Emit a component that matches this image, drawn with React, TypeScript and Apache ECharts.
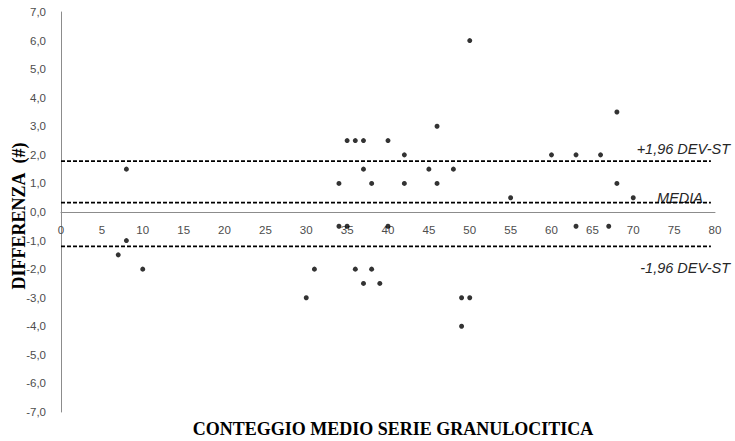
import React, { useEffect, useRef } from "react";
import * as echarts from "echarts";

// Bland-Altman style plot: difference vs mean count
const meanCount = [
  7, 8, 8, 10,
  30, 31, 34, 34, 35, 35, 36, 36, 37, 37, 37, 38, 38, 39, 40, 40,
  42, 42, 45, 46, 46, 48, 49, 49, 50, 50, 55,
  60, 63, 63, 66, 67, 68, 68, 70,
];
const difference = [
  -1.5, 1.5, -1.0, -2.0,
  -3.0, -2.0, 1.0, -0.5, 2.5, -0.5, 2.5, -2.0, 2.5, 1.5, -2.5, 1.0, -2.0, -2.5, 2.5, -0.5,
  2.0, 1.0, 1.5, 3.0, 1.0, 1.5, -3.0, -4.0, 6.0, -3.0, 0.5,
  2.0, 2.0, -0.5, 2.0, -0.5, 3.5, 1.0, 0.5,
];

// Reference lines: mean difference and limits of agreement
const upperLimit = 1.78;
const meanDiff = 0.33;
const lowerLimit = -1.2;
const limitSpan = [0, 79.5];

const upperText = "+1,96 DEV-ST";
const meanText = "MEDIA";
const lowerText = "-1,96 DEV-ST";

const xTitle = "CONTEGGIO MEDIO SERIE GRANULOCITICA";
const yTitle = "DIFFERENZA\u00a0\u00a0(#)";

const yMin = -7;
const yMax = 7;

const tickFont = "'Liberation Sans', Arial, sans-serif";
const titleFont = "'Liberation Serif', 'Times New Roman', serif";

const gridTop = 12;
const gridBottom = 29;
const chartHeight = 441;

function limitSeries(value: number) {
  return {
    type: "line",
    data: limitSpan.map((x) => [x, value]),
    showSymbol: false,
    silent: true,
    lineStyle: { color: "#000", width: 1.7, type: [4, 2] },
    z: 1,
  };
}

export default function App() {
  const ref = useRef<HTMLDivElement>(null);

  useEffect(() => {
    document.body.style.margin = "0";
    if (!ref.current) return;
    const chart = echarts.init(ref.current, undefined, { renderer: "svg" });

    // lift the x axis (line and labels) up to the y = 0 level
    const plotHeight = chartHeight - gridTop - gridBottom;
    const zeroOffset = -(plotHeight * (0 - yMin)) / (yMax - yMin);

    chart.setOption({
      animation: false,
      backgroundColor: "#fff",
      grid: { left: 61, right: 20, top: gridTop, bottom: gridBottom, containLabel: false },
      xAxis: {
        type: "value",
        min: 0,
        max: 80,
        interval: 5,
        offset: zeroOffset,
        axisLine: { onZero: false, lineStyle: { color: "#8c8c8c", width: 1 } },
        axisTick: { show: false },
        splitLine: { show: false },
        axisLabel: { color: "#4d4d4d", fontFamily: tickFont, fontSize: 11.5, margin: 12 },
      },
      yAxis: {
        type: "value",
        min: yMin,
        max: yMax,
        interval: 1,
        axisLine: { show: true, lineStyle: { color: "#8c8c8c", width: 1 } },
        axisTick: { show: false },
        splitLine: { show: false },
        axisLabel: {
          color: "#4d4d4d",
          fontFamily: tickFont,
          fontSize: 11.5,
          margin: 15,
          formatter: (v: number) => v.toFixed(1).replace(".", ","),
        },
      },
      series: [
        limitSeries(upperLimit),
        limitSeries(meanDiff),
        limitSeries(lowerLimit),
        {
          type: "scatter",
          data: meanCount.map((x, i) => [x, difference[i]]),
          symbol: "circle",
          symbolSize: 5,
          itemStyle: { color: "#000" },
          z: 3,
        },
      ],
    });

    const px = (v: number) => chart.convertToPixel({ gridIndex: 0 }, [80, v]) as number[];
    const up = px(upperLimit);
    const md = px(meanDiff);
    const lo = px(lowerLimit);
    const labelStyle = {
      fontFamily: tickFont,
      fontStyle: "italic",
      fontSize: 14.5,
      fill: "#262626",
      align: "right",
      verticalAlign: "middle",
    };

    chart.setOption({
      graphic: [
        { type: "text", x: up[0] + 15, y: up[1] - 12, style: { ...labelStyle, text: upperText } },
        { type: "text", x: md[0] - 12, y: md[1] - 5, style: { ...labelStyle, text: meanText } },
        { type: "text", x: lo[0] + 15, y: lo[1] + 22, style: { ...labelStyle, text: lowerText } },
        {
          type: "text",
          x: 393,
          y: 429,
          style: {
            text: xTitle,
            fontFamily: titleFont,
            fontWeight: "bold",
            fontSize: 18,
            fill: "#000",
            align: "center",
            verticalAlign: "middle",
          },
        },
        {
          type: "text",
          x: 19,
          y: 216,
          rotation: Math.PI / 2,
          style: {
            text: yTitle,
            fontFamily: titleFont,
            fontWeight: "bold",
            fontSize: 18,
            fill: "#000",
            align: "center",
            verticalAlign: "middle",
          },
        },
      ],
    });

    return () => chart.dispose();
  }, []);

  return <div ref={ref} style={{ width: 735, height: 441 }} />;
}
